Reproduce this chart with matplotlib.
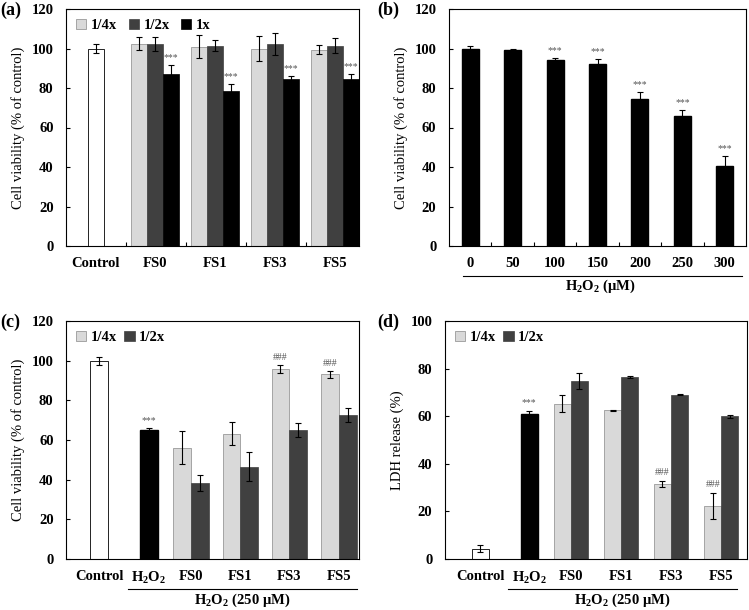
import matplotlib
matplotlib.use('Agg')
import matplotlib.pyplot as plt
import numpy as np

plt.rcParams['font.family'] = 'Liberation Serif'
plt.rcParams['font.weight'] = 'bold'
plt.rcParams['mathtext.fontset'] = 'custom'
plt.rcParams['mathtext.rm'] = 'Liberation Serif:bold'
plt.rcParams['mathtext.default'] = 'rm'

# ---- data -------------------------------------------------------------
# (a) cell viability, fractions alone
a_groups = ['FS0', 'FS1', 'FS3', 'FS5']
a_ctrl, a_ctrl_err = 100.0, 2.5
a_q = [102.4, 100.8, 100.0, 99.3]
a_q_err = [3.4, 5.8, 6.2, 2.3]
a_h = [102.2, 101.5, 102.4, 101.5]
a_h_err = [3.5, 2.9, 5.5, 3.8]
a_1 = [87.3, 78.3, 84.8, 84.6]
a_1_err = [4.2, 3.6, 1.4, 2.4]

# (b) H2O2 dose response
b_dose = ['0', '50', '100', '150', '200', '250', '300']
b_val = [100.0, 99.2, 94.4, 91.9, 74.3, 65.8, 40.6]
b_err = [1.2, 0.8, 1.0, 3.0, 3.5, 2.9, 4.9]
b_sig = ['', '', '***', '***', '***', '***', '***']

# (c) viability with H2O2 250 uM
c_ctrl, c_ctrl_err = 100.0, 2.0
c_h2o2, c_h2o2_err = 65.1, 1.0
c_q = [56.0, 63.2, 95.8, 93.1]
c_q_err = [8.3, 5.8, 2.2, 1.7]
c_h = [38.4, 46.5, 65.0, 72.8]
c_h_err = [4.0, 7.2, 3.6, 3.5]
c_sig = ['', '', '###', '###']

# (d) LDH release
d_ctrl, d_ctrl_err = 4.4, 1.3
d_h2o2, d_h2o2_err = 61.0, 1.3
d_q = [65.3, 62.4, 31.6, 22.3]
d_q_err = [3.5, 0.3, 1.3, 5.6]
d_h = [74.9, 76.5, 69.1, 60.0]
d_h_err = [3.4, 0.5, 0.4, 0.6]
d_sig = ['', '', '###', '###']

# ---- style ------------------------------------------------------------
LIGHT = '#d9d9d9'
DARK = '#404040'
FS = 10.5
SIG = dict(ha='center', va='bottom', fontsize=7, color='#555555', fontweight='normal')
EB = dict(ecolor='black', capsize=2, error_kw=dict(elinewidth=0.8, capthick=0.8))
W, H = 749, 610

fig = plt.figure(figsize=(7.49, 6.10), dpi=100)

def px_axes(l, r, t, b):
    return fig.add_axes([l / W, 1 - b / H, (r - l) / W, (b - t) / H])

def style(ax, ymax, ystep):
    ax.set_ylim(0, ymax)
    ax.set_yticks(np.arange(0, ymax + 1, ystep))
    ax.tick_params(axis='y', direction='in', length=3, width=0.8, pad=9, labelsize=FS)
    ax.tick_params(axis='x', which='major', length=0, pad=8, labelsize=FS)
    ax.tick_params(axis='x', which='minor', direction='in', length=3, width=0.8)
    for s in ax.spines.values():
        s.set_linewidth(0.8)

def bracket(ax, x0, x1, text, xt):
    ax.plot([x0, x1], [-0.127, -0.127], transform=ax.transAxes, color='black',
            lw=0.8, clip_on=False)
    ax.text(xt, -0.172, text, transform=ax.transAxes, ha='center', va='center',
            fontsize=FS)

# (a)
ax = px_axes(66, 359, 9, 246)
xg = np.arange(len(a_groups)) + 1.48
bw = 0.27
ax.bar(0.5, a_ctrl, 0.28, yerr=a_ctrl_err, color='white', edgecolor='black', lw=0.6, **EB)
ax.bar(xg - bw, a_q, bw, yerr=a_q_err, color=LIGHT, edgecolor='#888888', lw=0.5, label='1/4x', **EB)
ax.bar(xg, a_h, bw, yerr=a_h_err, color=DARK, edgecolor=DARK, lw=0.5, label='1/2x', **EB)
ax.bar(xg + bw, a_1, bw, yerr=a_1_err, color='black', edgecolor='black', lw=0.5, label='1x', **EB)
for x, v, e in zip(xg + bw, a_1, a_1_err):
    ax.text(x, v + e + 1.5, '***', **SIG)
ax.set_xlim(0, 293 / 60)
ax.set_xticks([0.5] + list(xg))
ax.set_xticklabels(['Control'] + a_groups)
ax.set_xticks([1, 2, 3, 4], minor=True)
style(ax, 120, 20)
ax.set_ylabel('Cell viability (% of control)', fontsize=FS, labelpad=5)
ax.legend(loc='upper left', ncol=3, frameon=False, fontsize=FS, handlelength=0.7,
          handleheight=0.7, handletextpad=0.3, columnspacing=0.8,
          borderaxespad=0.3, bbox_to_anchor=(0.0, 1.0))

# (b)
ax = px_axes(449, 746, 9, 246)
xb = np.arange(len(b_dose)) + 0.5
ax.bar(xb, b_val, 0.4, yerr=b_err, color='black', edgecolor='black', **EB)
for x, v, e, s in zip(xb, b_val, b_err, b_sig):
    ax.text(x, v + e + 1.5, s, **SIG)
ax.set_xlim(0, 7)
ax.set_xticks(xb)
ax.set_xticklabels(b_dose)
ax.set_xticks(np.arange(1, 7), minor=True)
style(ax, 120, 20)
ax.set_ylabel('Cell viability (% of control)', fontsize=FS, labelpad=5)
bracket(ax, 0.047, 0.987, 'H$_2$O$_2$ (\u03bcM)', 0.51)

# (c) and (d)
def treat_panel(l, r, pos, bw, ctrl, ctrl_e, h2, h2_e, q, q_e, hh, hh_e, sig,
                ymax, ylabel):
    ax = px_axes(l, r, 321, 559)
    ax.bar(pos[0], ctrl, bw, yerr=ctrl_e, color='white', edgecolor='black', lw=0.6, **EB)
    ax.bar(pos[1], h2, bw, yerr=h2_e, color='black', edgecolor='black', **EB)
    ax.text(pos[1], h2 + h2_e + 1.5, '***', **SIG)
    xg = np.array(pos[2:])
    ax.bar(xg - bw / 2, q, bw, yerr=q_e, color=LIGHT, edgecolor='#888888', lw=0.5,
           label='1/4x', **EB)
    ax.bar(xg + bw / 2, hh, bw, yerr=hh_e, color=DARK, edgecolor=DARK, lw=0.5,
           label='1/2x', **EB)
    for x, v, e, s in zip(xg - bw / 2, q, q_e, sig):
        ax.text(x, v + e + 1.5, s, **SIG)
    ax.set_xlim(0, 6)
    ax.set_xticks(pos)
    ax.set_xticklabels(['Control', 'H$_2$O$_2$', 'FS0', 'FS1', 'FS3', 'FS5'])
    style(ax, ymax, 20)
    ax.set_ylabel(ylabel, fontsize=FS, labelpad=5)
    ax.legend(loc='upper left', ncol=2, frameon=False, fontsize=FS, handlelength=0.7,
              handleheight=0.7, handletextpad=0.3, columnspacing=0.5,
              borderaxespad=0.3, bbox_to_anchor=(0.0, 1.0))
    return ax

ax = treat_panel(66, 359, [0.68, 1.70, 2.56, 3.57, 4.57, 5.59], 0.36,
                 c_ctrl, c_ctrl_err, c_h2o2, c_h2o2_err, c_q, c_q_err, c_h, c_h_err,
                 c_sig, 120, 'Cell viability (% of control)')
bracket(ax, 0.21, 0.993, 'H$_2$O$_2$ (250 \u03bcM)', 0.60)

ax = treat_panel(445, 747, [0.70, 1.67, 2.50, 3.50, 4.49, 5.49], 0.34,
                 d_ctrl, d_ctrl_err, d_h2o2, d_h2o2_err, d_q, d_q_err, d_h, d_h_err,
                 d_sig, 100, 'LDH release (%)')
bracket(ax, 0.21, 0.967, 'H$_2$O$_2$ (250 \u03bcM)', 0.586)

for lab, x, y in [('(a)', 0, 10), ('(b)', 377, 10), ('(c)', 0, 322), ('(d)', 377, 322)]:
    fig.text(x / W, 1 - y / H, lab, fontsize=13, ha='left', va='center')

fig.savefig('out.png', dpi=100)
